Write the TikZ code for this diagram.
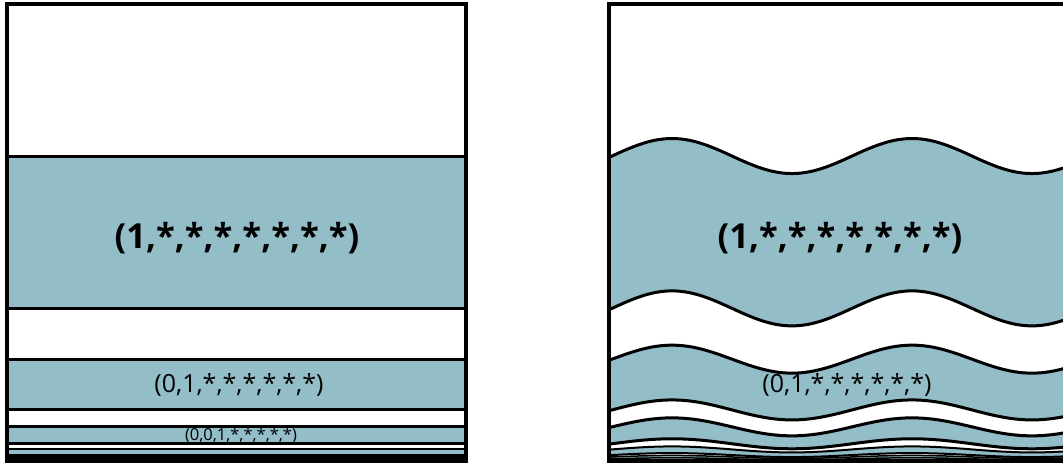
\documentclass[tikz,border=0pt]{standalone}
\usepackage{fontspec}
\setmainfont{Open Sans}
\definecolor{bandc}{RGB}{147,190,200}
\tikzset{
  sep/.style={line width=#1, line cap=butt},
  sep/.default=3pt,
  frame/.style={line width=4pt},
  bigtxt/.style={font=\bfseries\fontsize{34.5}{34.5}\selectfont, inner sep=0pt},
  midtxt/.style={font=\fontsize{25}{25}\selectfont, inner sep=0pt},
  smalltxt/.style={font=\fontsize{16.5}{16.5}\selectfont, inner sep=0pt}
}
\begin{document}
\begin{tikzpicture}[x=1pt,y=-1pt]
\useasboundingbox (0,0) rectangle (1063,464);
\clip (0,0) rectangle (1063,464);
% left panel
\begin{scope}
\clip (7,3.7) rectangle (466.3,460.7);
\foreach \k/\lw in {1/3pt,2/3pt,3/3pt,4/2pt,5/1.5pt}{
  \pgfmathsetmacro\yt{460.7-2*457/3^\k}
  \pgfmathsetmacro\yb{460.7-457/3^\k}
  \fill[bandc] (7,\yt) rectangle (466.3,\yb);
  \draw[sep=\lw] (7,\yt) -- (466.3,\yt) (7,\yb) -- (466.3,\yb);
}
\end{scope}
\draw[frame] (7,3.7) rectangle (466.3,460.7);
\node[bigtxt] (l1) at (237,238) {(1,*,*,*,*,*,*,*)};
\node[midtxt] (l2) at (239,385) {(0,1,*,*,*,*,*,*)};
\node[smalltxt] (l3) at (241,436) {(0,0,1,*,*,*,*,*)};
% right panel
\begin{scope}
\clip (608.7,3.7) rectangle (1069,460.7);
\foreach \k/\at/\ab/\lw in {1/17.5/17.5/3pt,2/14/10/3pt,3/9/5/3pt,4/3/2/2pt,5/1.5/1/1.5pt}{
  \pgfmathsetmacro\yt{460.7-2*457/3^\k}
  \pgfmathsetmacro\yb{460.7-457/3^\k}
  \fill[bandc] plot[domain=600:1075,samples=160,smooth] (\x,{\yt-\at*sin((\x-612)*1.5)})
    -- plot[domain=1075:600,samples=160,smooth] (\x,{\yb-\ab*sin((\x-612)*1.5)}) -- cycle;
  \draw[sep=\lw] plot[domain=600:1075,samples=160,smooth] (\x,{\yt-\at*sin((\x-612)*1.5)});
  \draw[sep=\lw] plot[domain=600:1075,samples=160,smooth] (\x,{\yb-\ab*sin((\x-612)*1.5)});
}
\end{scope}
\draw[frame] (608.7,3.7) rectangle (1069,460.7);
\node[bigtxt] (r1) at (840,238) {(1,*,*,*,*,*,*,*)};
\node[midtxt] (r2) at (847,385) {(0,1,*,*,*,*,*,*)};
\end{tikzpicture}
\end{document}
